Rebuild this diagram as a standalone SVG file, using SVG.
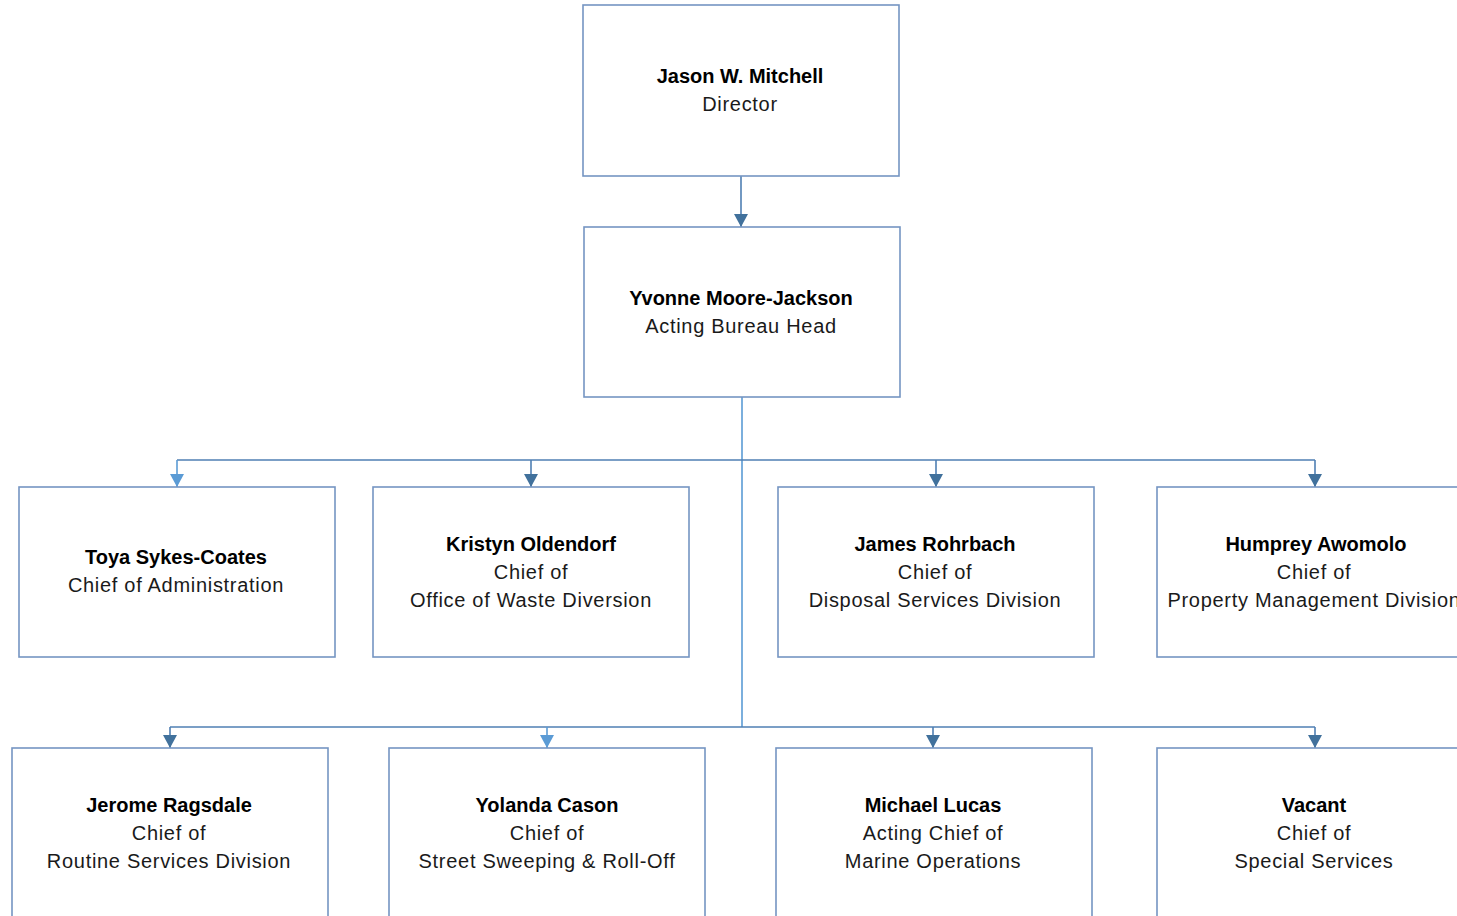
<svg xmlns="http://www.w3.org/2000/svg" width="1457" height="916" viewBox="0 0 1457 916">
<style>
.box{fill:#fff;stroke:#7595C2;stroke-width:1.6}
.c{fill:none;stroke:#4F7FB3;stroke-width:1.6}
.cl{fill:none;stroke:#5B9BD5;stroke-width:1.6}
text{font-family:"Liberation Sans",Arial,sans-serif;font-size:20px;letter-spacing:0.7px;text-anchor:middle;fill:#1a1a1a}
.n{font-weight:bold;fill:#000;letter-spacing:0px}
</style>
<defs>
<marker id="ad" markerWidth="14" markerHeight="13" refX="7" refY="13" orient="0" markerUnits="userSpaceOnUse"><path d="M0,0L14,0L7,13Z" fill="#41719C"/></marker>
<marker id="al" markerWidth="14" markerHeight="13" refX="7" refY="13" orient="0" markerUnits="userSpaceOnUse"><path d="M0,0L14,0L7,13Z" fill="#5B9BD5"/></marker>
</defs>
<g id="connectors">
<path class="c" d="M741,176V227" marker-end="url(#ad)"/>
<path class="cl" d="M742,397V727"/>
<path class="c" d="M177,460H1315"/>
<path class="cl" d="M177,460V487" marker-end="url(#al)"/>
<path class="c" d="M531,460V487" marker-end="url(#ad)"/>
<path class="c" d="M936,460V487" marker-end="url(#ad)"/>
<path class="c" d="M1315,460V487" marker-end="url(#ad)"/>
<path class="c" d="M170,727H1315"/>
<path class="c" d="M170,727V748" marker-end="url(#ad)"/>
<path class="cl" d="M547,727V748" marker-end="url(#al)"/>
<path class="c" d="M933,727V748" marker-end="url(#ad)"/>
<path class="c" d="M1315,727V748" marker-end="url(#ad)"/>
</g>
<g id="director"><rect class="box" x="583" y="5" width="316" height="171"/><text class="n" x="740" y="83">Jason W. Mitchell</text><text x="740" y="111">Director</text></g>
<g id="bureau"><rect class="box" x="584" y="227" width="316" height="170"/><text class="n" x="741" y="305">Yvonne Moore-Jackson</text><text x="741" y="333">Acting Bureau Head</text></g>
<g id="toya"><rect class="box" x="19" y="487" width="316" height="170"/><text class="n" x="176" y="564">Toya Sykes-Coates</text><text x="176" y="592">Chief of Administration</text></g>
<g id="kristyn"><rect class="box" x="373" y="487" width="316" height="170"/><text class="n" x="531" y="551">Kristyn Oldendorf</text><text x="531" y="579">Chief of</text><text x="531" y="607">Office of Waste Diversion</text></g>
<g id="james"><rect class="box" x="778" y="487" width="316" height="170"/><text class="n" x="935" y="551">James Rohrbach</text><text x="935" y="579">Chief of</text><text x="935" y="607">Disposal Services Division</text></g>
<g id="humprey"><rect class="box" x="1157" y="487" width="316" height="170"/><text class="n" x="1316" y="551">Humprey Awomolo</text><text x="1314" y="579">Chief of</text><text x="1314" y="607">Property Management Division</text></g>
<g id="jerome"><rect class="box" x="12" y="748" width="316" height="180"/><text class="n" x="169" y="812">Jerome Ragsdale</text><text x="169" y="840">Chief of</text><text x="169" y="868">Routine Services Division</text></g>
<g id="yolanda"><rect class="box" x="389" y="748" width="316" height="180"/><text class="n" x="547" y="812">Yolanda Cason</text><text x="547" y="840">Chief of</text><text x="547" y="868">Street Sweeping &amp; Roll-Off</text></g>
<g id="michael"><rect class="box" x="776" y="748" width="316" height="180"/><text class="n" x="933" y="812">Michael Lucas</text><text x="933" y="840">Acting Chief of</text><text x="933" y="868">Marine Operations</text></g>
<g id="vacant"><rect class="box" x="1157" y="748" width="316" height="180"/><text class="n" x="1314" y="812">Vacant</text><text x="1314" y="840">Chief of</text><text x="1314" y="868">Special Services</text></g>
</svg>
